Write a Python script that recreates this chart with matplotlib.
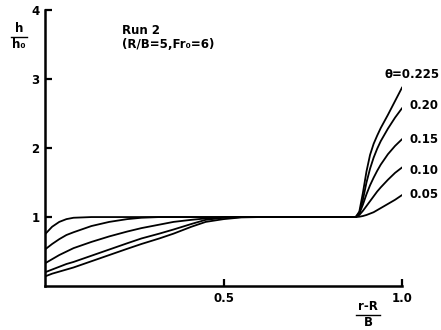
import numpy as np
import matplotlib
matplotlib.use('Agg')
import matplotlib.pyplot as plt
from matplotlib.lines import Line2D

# x positions (r-R)/B : left transition, then right rise
x_left = [0, 0.02, 0.04, 0.06, 0.08, 0.13, 0.18, 0.23, 0.27, 0.32, 0.36, 0.41, 0.45, 0.5, 0.55, 0.6]
x_right = [0.86, 0.87, 0.88, 0.89, 0.90, 0.91, 0.92, 0.93, 0.94, 0.96, 0.98, 1.0]

thetas = ['0.05', '0.10', '0.15', '0.20', '0.225']

# h/h0
h_left = {
    '0.05':  [0.75, 0.86, 0.93, 0.97, 0.99, 1.0, 1.0, 1.0, 1.0, 1.0, 1.0, 1.0, 1.0, 1.0, 1.0, 1.0],
    '0.10':  [0.53, 0.61, 0.68, 0.74, 0.78, 0.87, 0.93, 0.97, 0.99, 1.0, 1.0, 1.0, 1.0, 1.0, 1.0, 1.0],
    '0.15':  [0.33, 0.39, 0.45, 0.50, 0.55, 0.64, 0.72, 0.79, 0.84, 0.89, 0.93, 0.96, 0.98, 0.995, 1.0, 1.0],
    '0.20':  [0.20, 0.24, 0.28, 0.32, 0.35, 0.44, 0.53, 0.62, 0.69, 0.76, 0.82, 0.90, 0.96, 0.99, 1.0, 1.0],
    '0.225': [0.14, 0.18, 0.21, 0.24, 0.27, 0.36, 0.45, 0.54, 0.61, 0.69, 0.76, 0.86, 0.93, 0.97, 0.995, 1.0],
}
h_right = {
    '0.05':  [1.0, 1.0, 1.005, 1.015, 1.03, 1.05, 1.07, 1.10, 1.13, 1.19, 1.25, 1.32],
    '0.10':  [1.0, 1.0, 1.03, 1.09, 1.16, 1.23, 1.30, 1.37, 1.43, 1.54, 1.64, 1.72],
    '0.15':  [1.0, 1.0, 1.05, 1.18, 1.33, 1.46, 1.57, 1.67, 1.76, 1.91, 2.03, 2.13],
    '0.20':  [1.0, 1.0, 1.06, 1.25, 1.50, 1.70, 1.86, 1.99, 2.10, 2.28, 2.44, 2.58],
    '0.225': [1.0, 1.0, 1.08, 1.35, 1.66, 1.90, 2.06, 2.18, 2.29, 2.48, 2.68, 2.88],
}
label_y = {'0.05': 1.32, '0.10': 1.68, '0.15': 2.12, '0.20': 2.62, '0.225': 3.06}

font = {'family': 'DejaVu Sans', 'size': 8.5, 'weight': 'bold'}

fig = plt.figure(figsize=(4.41, 3.30), dpi=100)
ax = fig.add_axes([0.102, 0.133, 0.810, 0.837])

for t in thetas:
    xs = x_left + x_right
    ys = h_left[t] + h_right[t]
    ax.plot(xs, ys, color='black', lw=1.3, solid_capstyle='round', solid_joinstyle='round')
    txt = t if t != '0.225' else '\u03b8=0.225'
    xo = 1.02 if t != '0.225' else 0.95
    ax.text(xo, label_y[t], txt, ha='left', va='center', fontdict=font, clip_on=False)

ax.set_xlim(0, 1.0)
ax.set_ylim(0, 4)
for s in ['top', 'right']:
    ax.spines[s].set_visible(False)
for s in ['left', 'bottom']:
    ax.spines[s].set_linewidth(1.8)

ax.set_xticks([0.5, 1.0])
ax.set_xticklabels(['0.5', '1.0'])
ax.set_yticks([1, 2, 3, 4])
ax.set_yticklabels(['1', '2', '3', '4'])
ax.tick_params(direction='in', length=5, width=1.6, pad=4)
for lab in ax.get_xticklabels() + ax.get_yticklabels():
    lab.set_fontfamily('DejaVu Sans')
    lab.set_fontsize(8.5)
    lab.set_fontweight('bold')

# run text
fig.text(122 / 441, 1 - 30 / 330, 'Run 2', ha='left', va='center', fontdict=font)
fig.text(122 / 441, 1 - 44 / 330, '(R/B=5,Fr\u2080=6)', ha='left', va='center', fontdict=font)

# y label h/h0 as a fraction
fig.text(19 / 441, 1 - 29 / 330, 'h', ha='center', va='center', fontdict=font)
fig.add_artist(Line2D([11 / 441, 27 / 441], [1 - 37 / 330, 1 - 37 / 330], color='black', lw=1.0))
fig.text(19 / 441, 1 - 45 / 330, 'h\u2080', ha='center', va='center', fontdict=font)

# x label (r-R)/B as a fraction
fig.text(368 / 441, 1 - 307 / 330, 'r-R', ha='center', va='center', fontdict=font)
fig.add_artist(Line2D([356 / 441, 380 / 441], [1 - 315 / 330, 1 - 315 / 330], color='black', lw=1.0))
fig.text(368 / 441, 1 - 323 / 330, 'B', ha='center', va='center', fontdict=font)

fig.savefig('out.png', dpi=100)
